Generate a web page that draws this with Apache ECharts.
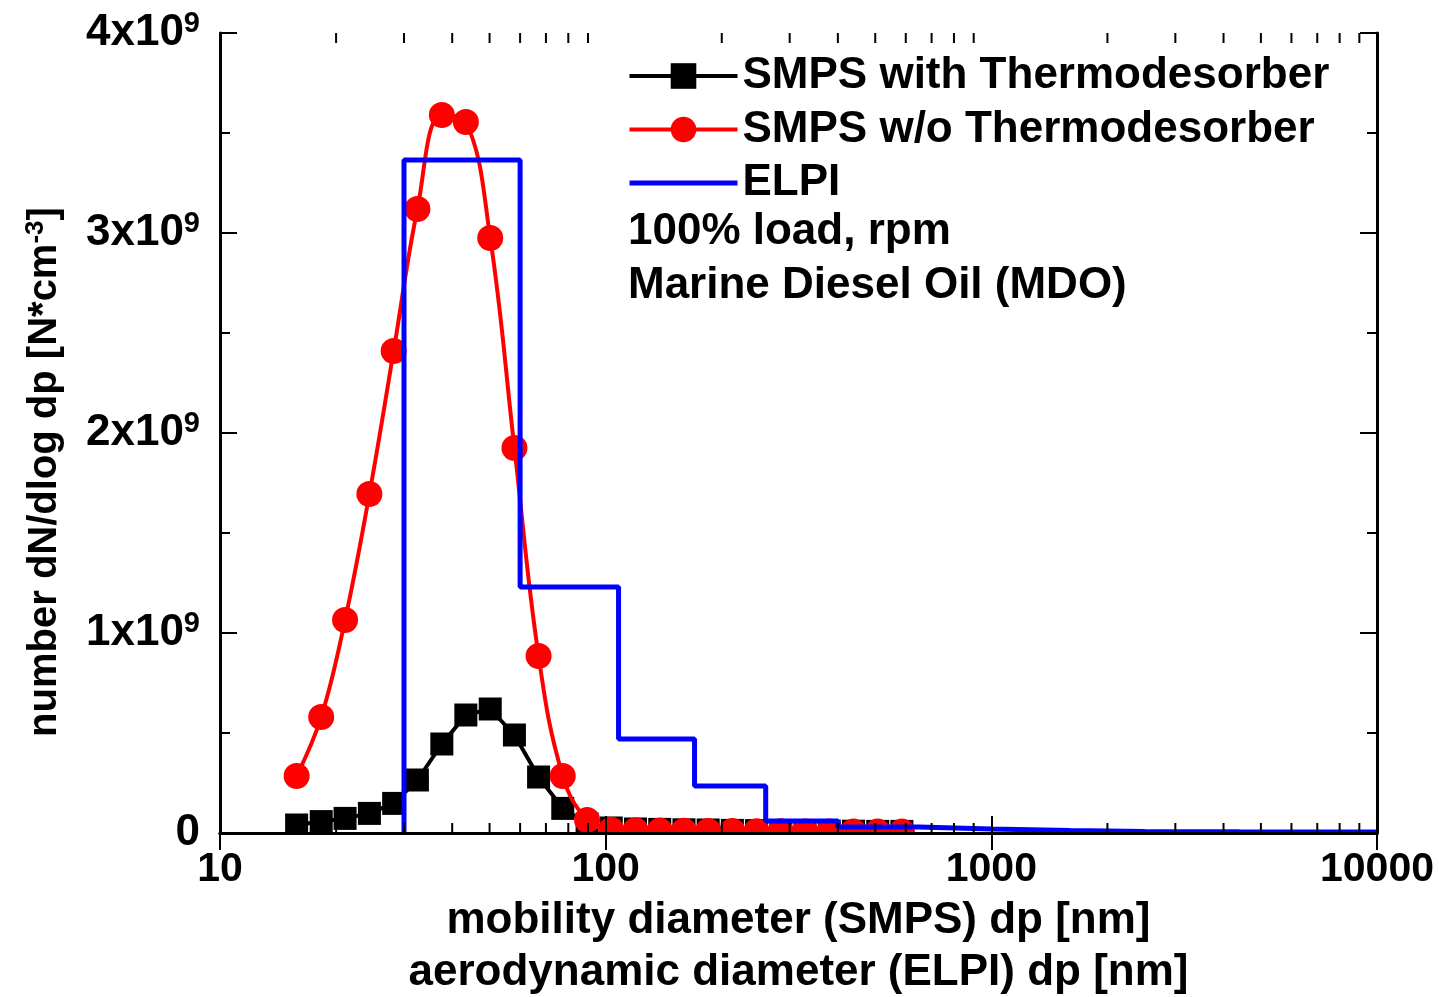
<!DOCTYPE html>
<html>
<head>
<meta charset="utf-8">
<script src="https://cdn.jsdelivr.net/npm/echarts@6/dist/echarts.min.js"></script>
<style>
html,body{margin:0;padding:0;background:#fff;}
#chart{width:1439px;height:997px;}
</style>
</head>
<body>
<div id="chart"></div>
<script>
// ---- data (y values in units of 1e9 N/cm^3) ----
var dpSMPS = [15.8, 18.3, 21.1, 24.4, 28.2, 32.5, 37.6, 43.4, 50.2, 58.0, 67.0, 77.4, 89.5,
              103.4, 119.5, 138.1, 159.6, 184.4, 213.1, 246.2, 284.5, 328.8, 380.0, 439.1, 507.4, 586.3];
var smpsWithTD = [0.04, 0.057, 0.073, 0.098, 0.148, 0.265, 0.445, 0.59, 0.62, 0.49, 0.28, 0.123, 0.045,
                  0.025, 0.02, 0.018, 0.016, 0.015, 0.013, 0.012, 0.011, 0.01, 0.01, 0.009, 0.008, 0.008];
var smpsWithoutTD = [0.285, 0.58, 1.065, 1.695, 2.41, 3.12, 3.59, 3.555, 2.975, 1.925, 0.885, 0.285, 0.065,
                     0.016, 0.014, 0.012, 0.011, 0.01, 0.01, 0.009, 0.009, 0.008, 0.008, 0.008, 0.007, 0.007];
var elpiEdges = [30, 60, 108, 170, 260, 400, 650, 1000, 1600, 2500, 4400, 6800, 10000];
var elpiLevels = [3.365, 1.23, 0.47, 0.235, 0.06, 0.03, 0.02, 0.012, 0.008, 0.006, 0.005, 0.005];
var xMajorTicks = [10, 100, 1000, 10000];
var xMinorTicks = [20,30,40,50,60,70,80,90, 200,300,400,500,600,700,800,900, 2000,3000,4000,5000,6000,7000,8000,9000];
var yTicks = [0, 1, 2, 3, 4];
var seriesNames = ['SMPS with Thermodesorber', 'SMPS w/o Thermodesorber', 'ELPI'];
var notes = ['100% load, rpm', 'Marine Diesel Oil (MDO)'];

// ---- build ----
var FONT = "'Liberation Sans', Arial, Helvetica, sans-serif";
function pairs(xs, ys){ return xs.map(function(x,i){ return [x, ys[i]]; }); }
var elpiData = [[elpiEdges[0], 0]];
for (var i = 0; i < elpiLevels.length; i++) elpiData.push([elpiEdges[i], elpiLevels[i]]);
elpiData.push([elpiEdges[elpiEdges.length-1], elpiLevels[elpiLevels.length-1]]);

var chart = echarts.init(document.getElementById('chart'), null, {renderer:'canvas'});
var axisLine = {show:true, lineStyle:{color:'#000', width:3}};
var xAxisCommon = {
  type:'log', logBase:10, min:xMajorTicks[0], max:xMajorTicks[xMajorTicks.length-1],
  axisLine: axisLine,
  axisTick:{show:true, inside:true, length:17, lineStyle:{color:'#000', width:2}},
  splitLine:{show:false}, minorTick:{show:false}, z:10
};
var option = {
  backgroundColor:'#fff',
  animation:false,
  grid:{left:220, right:62, top:33, bottom:164, containLabel:false, outerBoundsMode:'none'},
  legend:{
    data: [
      {name:seriesNames[0], lineStyle:{width:4, color:'#000'}},
      {name:seriesNames[1], lineStyle:{width:4, color:'#ff0000'}},
      {name:seriesNames[2], lineStyle:{width:5, color:'#0000ff'}, itemStyle:{color:'rgba(0,0,0,0)', borderWidth:0, opacity:0}}
    ],
    orient:'vertical', left:622, top:49,
    itemWidth:108, itemHeight:32, itemGap:9.5,
    textStyle:{fontFamily:FONT, fontWeight:'bold', fontSize:44, color:'#000', lineHeight:44},
    selectedMode:false
  },
  xAxis:[
    Object.assign({}, xAxisCommon, {
      position:'bottom',
      axisLabel:{show:true, color:'#000', fontFamily:FONT, fontWeight:'bold', fontSize:41, margin:16,
                 formatter:function(v){ return String(Math.round(v)); }},
      name:'mobility diameter (SMPS) dp [nm]\naerodynamic diameter (ELPI) dp [nm]',
      nameLocation:'middle', nameGap:61,
      nameTextStyle:{color:'#000', fontFamily:FONT, fontWeight:'bold', fontSize:44, lineHeight:52}
    }),
    Object.assign({}, xAxisCommon, {position:'top', axisLabel:{show:false}})
  ],
  yAxis:[
    {
      type:'value', min:yTicks[0], max:yTicks[yTicks.length-1], interval:1, position:'left',
      axisLine:axisLine,
      axisTick:{show:true, inside:true, length:17, lineStyle:{color:'#000', width:2}},
      minorTick:{show:true, splitNumber:2, length:10, lineStyle:{color:'#000', width:2}},
      splitLine:{show:false}, z:10,
      axisLabel:{
        show:true, margin:20, color:'#000',
        formatter:function(v){ return v === 0 ? '{b|0}' : '{b|' + v + 'x10}{s|9}'; },
        rich:{
          b:{fontFamily:FONT, fontWeight:'bold', fontSize:44, color:'#000', lineHeight:48},
          s:{fontFamily:FONT, fontWeight:'bold', fontSize:29, color:'#000', verticalAlign:'top', lineHeight:48, padding:[0,0,26,0]}
        }
      }
    },
    {
      type:'value', min:yTicks[0], max:yTicks[yTicks.length-1], interval:1, position:'right',
      axisLine:axisLine,
      axisTick:{show:true, inside:true, length:17, lineStyle:{color:'#000', width:2}},
      minorTick:{show:true, splitNumber:2, length:10, lineStyle:{color:'#000', width:2}},
      splitLine:{show:false}, axisLabel:{show:false}, z:10
    }
  ],
  graphic:[
    {type:'text', left:628, top:210, z:20, style:{text:notes[0], font:'bold 44px ' + FONT, fill:'#000'}},
    {type:'text', left:628, top:264, z:20, style:{text:notes[1], font:'bold 44px ' + FONT, fill:'#000'}},
    {type:'text', x:45, y:472, rotation:Math.PI/2, z:20,
     style:{
       text:'{t|number dN/dlog dp [N*cm}{s|-3}{t|]}', align:'center', verticalAlign:'middle',
       rich:{
         t:{fontFamily:FONT, fontWeight:'bold', fontSize:40, fill:'#000', lineHeight:44},
         s:{fontFamily:FONT, fontWeight:'bold', fontSize:26, fill:'#000', verticalAlign:'top', lineHeight:44, padding:[0,0,22,0]}
       }
     }},
    // white mask below the plot frame so markers appear clipped at the axis
    {type:'rect', shape:{x:212, y:834, width:1175, height:13}, style:{fill:'#fff'}, z:5, silent:true}
  ],
  series:[
    {
      name:seriesNames[0], type:'line', data:pairs(dpSMPS, smpsWithTD),
      symbol:'rect', symbolSize:23, showAllSymbol:true, clip:false,
      lineStyle:{color:'#000', width:4}, itemStyle:{color:'#000'}, z:2
    },
    {
      name:seriesNames[1], type:'line', data:pairs(dpSMPS, smpsWithoutTD), smooth:0.4,
      symbol:'circle', symbolSize:26, showAllSymbol:true, clip:false,
      lineStyle:{color:'#ff0000', width:4}, itemStyle:{color:'#ff0000'}, z:3
    },
    {
      name:seriesNames[2], type:'line', data:elpiData, step:'end',
      symbol:'none', lineStyle:{color:'#0000ff', width:5}, itemStyle:{color:'#0000ff'}, z:4
    },
    {
      name:'minorTicks', type:'custom', xAxisIndex:0, yAxisIndex:0, silent:true, z:11, clip:false,
      data: xMinorTicks.map(function(v){ return [v, 0]; }),
      encode:{x:0, y:1},
      renderItem:function(params, api){
        var v = api.value(0);
        var pb = api.coord([v, yTicks[0]]);
        var pt = api.coord([v, yTicks[yTicks.length-1]]);
        var st = {stroke:'#000', lineWidth:2};
        return {type:'group', children:[
          {type:'line', shape:{x1:pb[0], y1:pb[1], x2:pb[0], y2:pb[1]-10}, style:st},
          {type:'line', shape:{x1:pt[0], y1:pt[1], x2:pt[0], y2:pt[1]+10}, style:st}
        ]};
      }
    }
  ]
};
chart.setOption(option);
</script>
</body>
</html>
